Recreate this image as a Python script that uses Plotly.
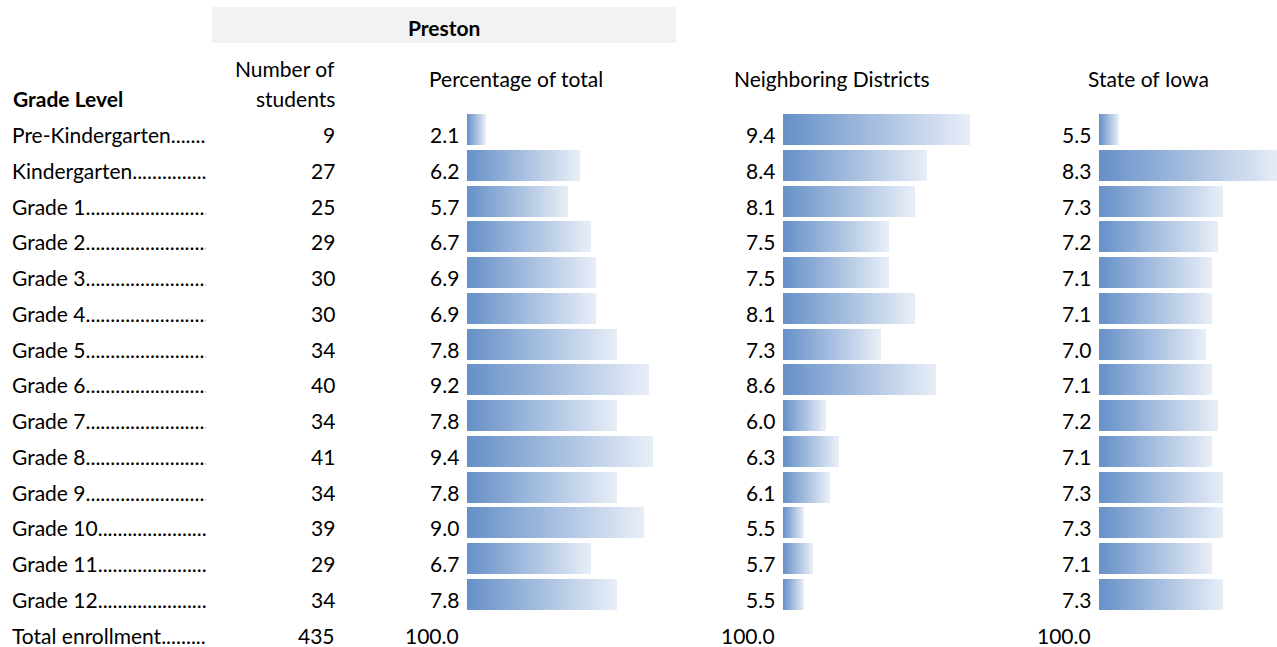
import plotly.graph_objects as go

# ---------------- data ----------------
grades = ["Pre-Kindergarten", "Kindergarten", "Grade 1", "Grade 2", "Grade 3", "Grade 4",
          "Grade 5", "Grade 6", "Grade 7", "Grade 8", "Grade 9", "Grade 10", "Grade 11", "Grade 12"]
students = [9, 27, 25, 29, 30, 30, 34, 40, 34, 41, 34, 39, 29, 34]
pct_preston = [2.1, 6.2, 5.7, 6.7, 6.9, 6.9, 7.8, 9.2, 7.8, 9.4, 7.8, 9.0, 6.7, 7.8]
pct_neighbor = [9.4, 8.4, 8.1, 7.5, 7.5, 8.1, 7.3, 8.6, 6.0, 6.3, 6.1, 5.5, 5.7, 5.5]
pct_iowa = [5.5, 8.3, 7.3, 7.2, 7.1, 7.1, 7.0, 7.1, 7.2, 7.1, 7.3, 7.3, 7.1, 7.3]
total_label = "Total enrollment"
total_students = 435
total_pct = ["100.0", "100.0", "100.0"]
col_titles = ["Percentage of total", "Neighboring Districts", "State of Iowa"]

# ---------------- layout constants ----------------
W, H = 1277, 647
FONT = "Lato"
FS = 21
TXT = "#000000"
C0 = (102, 144, 200)
C1 = (232, 238, 247)
NSEG = 60

rows = list(range(len(grades)))

# x-axis setups: (start px, end px, data value at start, px per unit)
cols = [
    (467.0, 676.0, 2.1 - 19 / 22.9, 22.9, pct_preston, "x", 461),
    (782.5, 1000.0, 5.5 - 21 / 42.56, 42.56, pct_neighbor, "x2", 777),
    (1099.0, 1277.0, 5.5 - 20 / 58.0, 58.0, pct_iowa, "x3", 1093),
]

fig = go.Figure()

for (px0, px1, v0, scale, vals, xa, _) in cols:
    for k in range(NSEG):
        t = (k + 0.5) / NSEG
        col = "rgb(%d,%d,%d)" % tuple(round(C0[j] + (C1[j] - C0[j]) * t) for j in range(3))
        bases = [v0 + (v - v0) * k / NSEG for v in vals]
        lens = [v - b for v, b in zip(vals, bases)]
        fig.add_trace(go.Bar(
            y=rows, x=lens, base=bases, orientation="h", xaxis=xa, yaxis="y",
            width=0.867, marker=dict(color=col, line=dict(width=0)),
            hoverinfo="skip", showlegend=False))

row_h = 35.77
bar_c0 = 129.5
y_top = -bar_c0 / row_h
y_bot = (H - bar_c0) / row_h

def dom(a, b):
    return [a / W, min(b / W, 1.0)]

layout = dict(
    width=W, height=H, margin=dict(l=0, r=0, t=0, b=0),
    paper_bgcolor="white", plot_bgcolor="rgba(0,0,0,0)",
    barmode="overlay", bargap=0,
    yaxis=dict(range=[y_bot, y_top], domain=[0, 1], visible=False, fixedrange=True),
)
for i, (px0, px1, v0, scale, vals, xa, _) in enumerate(cols):
    key = "xaxis" if xa == "x" else "xaxis" + xa[1:]
    layout[key] = dict(domain=dom(px0, px1), range=[v0, v0 + (px1 - px0) / scale],
                       visible=False, fixedrange=True, anchor="y")
fig.update_layout(**layout)

ann = []
font = dict(family=FONT, size=FS, color=TXT)

def py(p):
    return 1 - p / H

# headers
fig.add_shape(type="rect", xref="paper", yref="paper", x0=212 / W, x1=676 / W,
              y0=py(43), y1=py(7), fillcolor="#F2F2F2", line=dict(width=0), layer="below")
ann.append(dict(text="<b>Preston</b>", x=444 / W, y=py(28), xanchor="center", font=font))
ann.append(dict(text="<b>Grade Level</b>", x=11 / W, y=py(99), xanchor="left", font=font))
ann.append(dict(text="Number of", x=337 / W, y=py(68), xanchor="right", font=font))
ann.append(dict(text="students", x=337 / W, y=py(98), xanchor="right", font=font))
for title, cx in zip(col_titles, [516, 832, 1148]):
    ann.append(dict(text=title, x=cx / W, y=py(79), xanchor="center", font=font))

for a in ann:
    a.update(xref="paper", yref="paper", showarrow=False, yanchor="middle")

# approximate label widths (px) in the chosen font, used to size dot leaders
def est_width(s):
    w = 0.0
    for ch in s:
        if ch.isdigit():
            w += 0.58
        elif ch in "ilrtfj-. ":
            w += 0.30
        elif ch.isupper():
            w += 0.66
        else:
            w += 0.53
    return w * FS

DOT = 0.232 * FS
LEADER_END = 206
LABEL_X = 10

# rows
row_ann = []
labels = grades + [total_label]
nums = students + [total_students]
for i, (lab, n) in enumerate(zip(labels, nums)):
    ndots = max(3, int((LEADER_END - LABEL_X - est_width(lab)) / DOT) + 2)
    row_ann.append(dict(text=lab + "." * ndots, x=LABEL_X / W, xanchor="left", width=194,
                        align="left", y=i, font=font))
    row_ann.append(dict(text=str(n), x=337 / W, xanchor="right", y=i, font=font))
for (px0, px1, v0, scale, vals, xa, rx), tot in zip(cols, total_pct):
    for i, v in enumerate(vals):
        row_ann.append(dict(text="%.1f" % v, x=rx / W, xanchor="right", y=i, font=font))
    row_ann.append(dict(text=tot, x=rx / W, xanchor="right", y=len(vals), font=font))
for a in row_ann:
    a.update(xref="paper", yref="y", showarrow=False, yanchor="middle", yshift=-5)

fig.update_layout(annotations=ann + row_ann)
fig.write_html("out.html", config={"displayModeBar": False},
               post_script="document.body.style.margin='0';document.body.style.overflow='hidden';")
